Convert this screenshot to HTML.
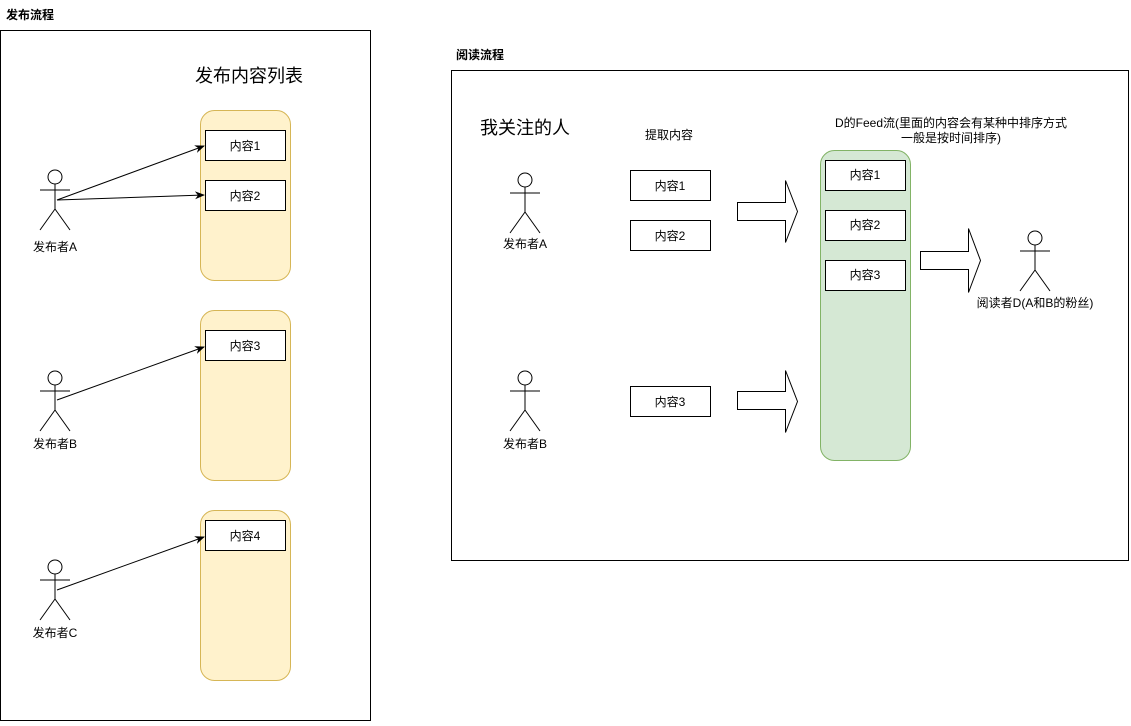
<!DOCTYPE html>
<html><head><meta charset="utf-8"><style>
body{margin:0;background:#fff}
svg text{font-family:"Liberation Sans","Noto Sans CJK SC",sans-serif;fill:#000}
</style></head><body>
<svg width="1131" height="721" viewBox="0 0 1131 721" xmlns="http://www.w3.org/2000/svg">
<defs>
<marker id="ar" markerWidth="10" markerHeight="10" refX="9" refY="5" orient="auto" markerUnits="userSpaceOnUse"><path d="M0,1 L10,5 L0,9 L3,5 Z" fill="#000"/></marker>
<g id="actor" fill="none" stroke="#000" stroke-width="1">
<circle cx="0" cy="0" r="7" fill="#fff"/><line x1="0" y1="7" x2="0" y2="32"/><line x1="-15" y1="13" x2="15" y2="13"/><line x1="0" y1="32" x2="-15" y2="53"/><line x1="0" y1="32" x2="15" y2="53"/>
</g>
</defs>
<text x="6" y="19" font-size="12" font-weight="bold">发布流程</text>
<rect x="0.5" y="30.5" width="370" height="690" fill="none" stroke="#000"/>
<text x="249" y="82" font-size="18" text-anchor="middle">发布内容列表</text>
<g fill="#fff2cc" stroke="#d6b656">
<rect x="200.5" y="110.5" width="90" height="170" rx="14"/>
<rect x="200.5" y="310.5" width="90" height="170" rx="14"/>
<rect x="200.5" y="510.5" width="90" height="170" rx="14"/>
</g>
<g fill="#fff" stroke="#000">
<rect x="205.5" y="130.5" width="80" height="30"/><rect x="205.5" y="180.5" width="80" height="30"/>
<rect x="205.5" y="330.5" width="80" height="30"/><rect x="205.5" y="520.5" width="80" height="30"/>
</g>
<g font-size="12" text-anchor="middle">
<text x="245" y="150">内容1</text><text x="245" y="200">内容2</text><text x="245" y="350">内容3</text><text x="245" y="540">内容4</text>
</g>
<use href="#actor" x="55" y="177"/><use href="#actor" x="55" y="378"/><use href="#actor" x="55" y="567"/>
<g font-size="12" text-anchor="middle">
<text x="55" y="251">发布者A</text><text x="55" y="448">发布者B</text><text x="55" y="637">发布者C</text>
</g>
<g stroke="#000" marker-end="url(#ar)">
<line x1="57" y1="200" x2="204" y2="146"/><line x1="57" y1="200" x2="204" y2="195"/>
<line x1="57" y1="400" x2="204" y2="347"/><line x1="57" y1="590" x2="204" y2="537"/>
</g>

<text x="456" y="59" font-size="12" font-weight="bold">阅读流程</text>
<rect x="451.5" y="70.5" width="677" height="490" fill="none" stroke="#000"/>
<text x="480" y="134" font-size="18">我关注的人</text>
<text x="669" y="139" font-size="12" text-anchor="middle">提取内容</text>
<use href="#actor" x="525" y="180"/><use href="#actor" x="525" y="378"/>
<g font-size="12" text-anchor="middle"><text x="525" y="248">发布者A</text><text x="525" y="448">发布者B</text></g>
<g fill="#fff" stroke="#000">
<rect x="630.5" y="170.5" width="80" height="30"/><rect x="630.5" y="220.5" width="80" height="30"/><rect x="630.5" y="386.5" width="80" height="30"/>
</g>
<g font-size="12" text-anchor="middle"><text x="670" y="190">内容1</text><text x="670" y="240">内容2</text><text x="670" y="406">内容3</text></g>
<g fill="#fff" stroke="#000">
<polygon points="737.5,202.5 785.5,202.5 785.5,180.5 797.5,211.5 785.5,242.5 785.5,220.5 737.5,220.5"/>
<polygon points="737.5,391.5 785.5,391.5 785.5,370.5 797.5,401.5 785.5,432.5 785.5,409.5 737.5,409.5"/>
<polygon points="920.5,251.5 968.5,251.5 968.5,228.5 980.5,260.5 968.5,292.5 968.5,269.5 920.5,269.5"/>
</g>
<rect x="820.5" y="150.5" width="90" height="310" rx="14" fill="#d5e8d4" stroke="#82b366"/>
<g fill="#fff" stroke="#000">
<rect x="825.5" y="160.5" width="80" height="30"/><rect x="825.5" y="210.5" width="80" height="30"/><rect x="825.5" y="260.5" width="80" height="30"/>
</g>
<g font-size="12" text-anchor="middle"><text x="865" y="179">内容1</text><text x="865" y="229">内容2</text><text x="865" y="279">内容3</text>
<text x="951" y="127">D的Feed流(里面的内容会有某种中排序方式</text><text x="951" y="142">一般是按时间排序)</text>
<text x="1035" y="307">阅读者D(A和B的粉丝)</text></g>
<use href="#actor" x="1035" y="238"/>
</svg>
</body></html>
